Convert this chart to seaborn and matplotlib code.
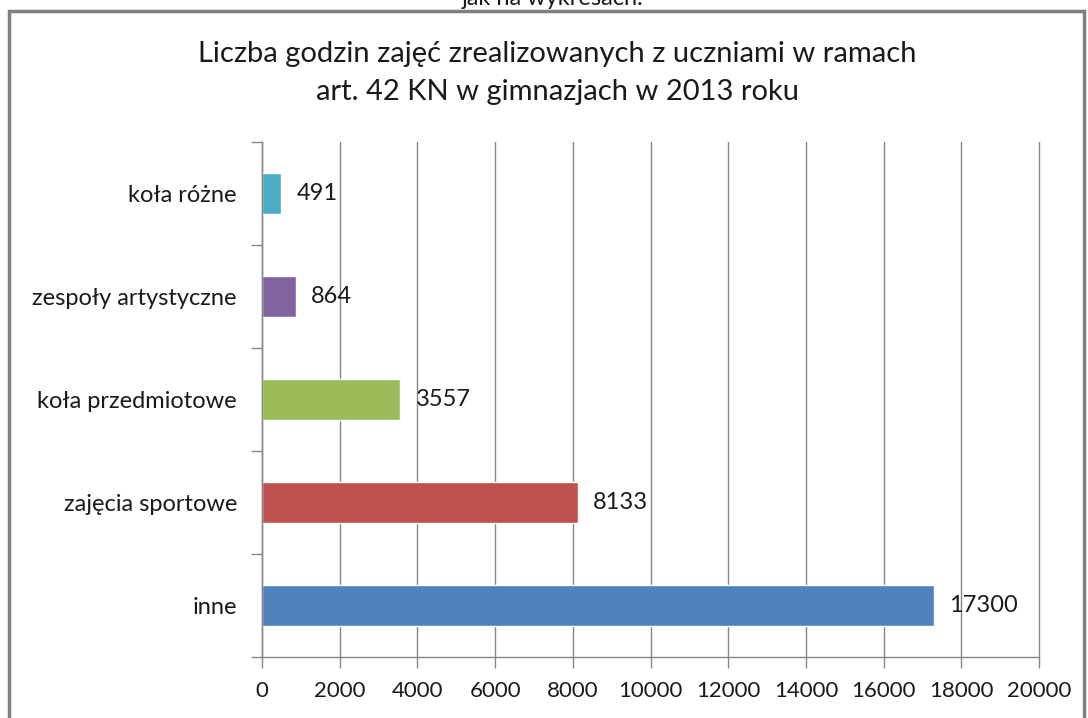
import pandas as pd
import matplotlib.pyplot as plt
import matplotlib.patches as patches
from matplotlib.ticker import FixedLocator, NullFormatter
import seaborn as sns

categories = ['koła różne', 'zespoły artystyczne', 'koła przedmiotowe', 'zajęcia sportowe', 'inne']
hours = [491, 864, 3557, 8133, 17300]
colors = ['#4BACC6', '#8064A2', '#9BBB59', '#C0504D', '#4F81BD']
xticks = list(range(0, 20001, 2000))

df = pd.DataFrame({'kategoria': categories, 'godziny': hours})

sns.set_style('white')
plt.rcParams['font.family'] = ['Lato', 'DejaVu Sans']
grey = '#868686'
txt = '#1a1a1a'

fig = plt.figure(figsize=(10.88, 7.18), dpi=100)
ax = fig.add_axes([262/1088, 1-657/718, (1039-262)/1088, (657-142)/718])

sns.barplot(data=df, x='godziny', y='kategoria', hue='kategoria', palette=colors,
            order=categories, orient='h', width=0.4, legend=False, ax=ax, saturation=1)

# value labels
for i, v in enumerate(hours):
    ax.annotate(str(v), (v, i), xytext=(11, 0), textcoords='offset points',
                va='center', ha='left', fontsize=17, color=txt)

ax.set_xlim(0, 20000)
ax.set_ylim(len(categories) - 0.5, -0.5)
ax.set_xticks(xticks)
ax.set_xticklabels([str(t) for t in xticks])
ax.xaxis.grid(True, color=grey, linewidth=1)
for gl in ax.get_xgridlines():
    gl.set_clip_on(False)
ax.set_axisbelow(True)
ax.set_xlabel('')
ax.set_ylabel('')

# category tick marks sit between bars
ax.yaxis.set_minor_locator(FixedLocator([i - 0.5 for i in range(len(categories) + 1)]))
ax.yaxis.set_minor_formatter(NullFormatter())
ax.tick_params(axis='y', which='major', length=0, pad=18, labelsize=17, labelcolor=txt)
ax.tick_params(axis='y', which='minor', length=8, width=1, color=grey, left=True)
ax.tick_params(axis='x', which='major', length=8, width=1, color=grey, bottom=True,
               pad=9, labelsize=16, labelcolor=txt)

for s in ['top', 'right']:
    ax.spines[s].set_visible(False)
for s in ['left', 'bottom']:
    ax.spines[s].set_color(grey)
    ax.spines[s].set_linewidth(1)

fig.text(557/1088, 1 - 73/718, 'Liczba godzin zajęć zrealizowanych z uczniami w ramach\nart. 42 KN w gimnazjach w 2013 roku',
         ha='center', va='center', fontsize=21, linespacing=1.6, color=txt)

# cut-off text above the chart frame, as in the source
fig.text(553/1088, 1 - 5/718, 'jak na wykresach.', ha='center', va='baseline', fontsize=17, color=txt)

# chart frame
frame = patches.Rectangle((9/1088, -0.05), (1084-9)/1088, 1.05 - 11/718, transform=fig.transFigure,
                          fill=False, edgecolor='#808080', linewidth=2.5, clip_on=False)
fig.patches.append(frame)

fig.savefig('out.png', dpi=100)
